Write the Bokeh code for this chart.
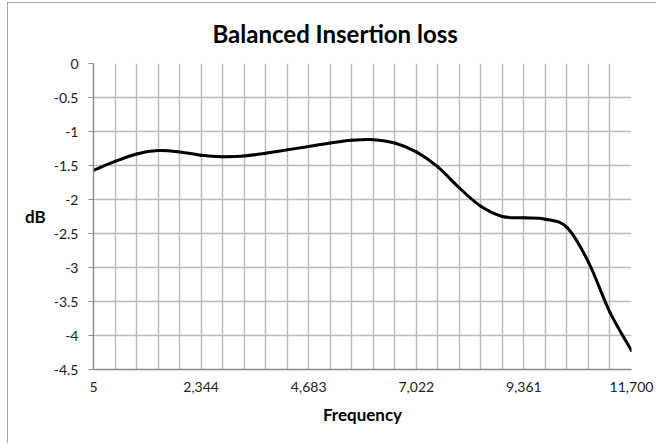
from bokeh.plotting import figure
from bokeh.models import FixedTicker, NumeralTickFormatter, Range1d
from bokeh.embed import file_html
from bokeh.resources import INLINE

# ---- data ----
frequency = [5, 472.8, 940.6, 1408.4, 1876.2, 2344, 2811.8, 3279.6, 3747.4, 4215.2,
             4683, 5150.8, 5618.6, 6086.4, 6554.2, 7022, 7489.8, 7957.6, 8425.4, 8893.2,
             9361, 9828.8, 10296.6, 10764.4, 11232.2, 11700]
insertion_loss_db = [-1.57, -1.44, -1.33, -1.28, -1.30, -1.35, -1.37, -1.36, -1.32, -1.27,
                     -1.22, -1.17, -1.13, -1.12, -1.17, -1.30, -1.52, -1.83, -2.10, -2.25,
                     -2.27, -2.29, -2.41, -2.92, -3.66, -4.22]
x_tick_labels = [5, 2344, 4683, 7022, 9361, 11700]
y_ticks = [0, -0.5, -1, -1.5, -2, -2.5, -3, -3.5, -4, -4.5]

FONT = "Lato"

p = figure(width=649, height=441, output_backend="svg", toolbar_location=None,
           x_range=Range1d(5, 11700), y_range=Range1d(-4.5, 0),
           min_border_left=86, min_border_right=25, min_border_top=61, min_border_bottom=74)
p.styles = {"outline": "1px solid #8a8a8a", "outline-offset": "-1px",
            "margin-left": "7px", "margin-top": "2px"}

p.title.text = "Balanced Insertion loss"
p.title.align = "left"
p.title.vertical_align = "top"
p.title.text_font = FONT
p.title.text_font_size = "24px"
p.title.text_font_style = "bold"
p.title.text_color = "black"
p.title.offset = 119
p.title.standoff = 27

p.outline_line_color = None
p.background_fill_color = "white"
p.border_fill_color = "white"

# grid
p.xgrid.ticker = FixedTicker(ticks=frequency)
p.ygrid.ticker = FixedTicker(ticks=y_ticks)
for g in (p.xgrid, p.ygrid):
    g.grid_line_color = "#bababa"
    g.grid_line_width = 1.4

# x axis
p.xaxis.ticker = FixedTicker(ticks=x_tick_labels)
p.xaxis.formatter = NumeralTickFormatter(format="0,0")
p.xaxis.major_tick_out = 0
p.xaxis.major_tick_in = 0
p.xaxis.minor_tick_out = 0
p.xaxis.minor_tick_in = 0
p.xaxis.axis_line_color = "#8a8a8a"
p.xaxis.axis_line_width = 1.4
p.xaxis.major_label_standoff = 12
p.xaxis.axis_label = "Frequency"
p.xaxis.axis_label_standoff = 9

# y axis
p.yaxis.ticker = FixedTicker(ticks=y_ticks)
p.yaxis.formatter = NumeralTickFormatter(format="0.[0]")
p.yaxis.major_tick_out = 5
p.yaxis.major_tick_in = 0
p.yaxis.minor_tick_out = 0
p.yaxis.minor_tick_in = 0
p.yaxis.major_tick_line_color = "#8a8a8a"
p.yaxis.axis_line_color = "#8a8a8a"
p.yaxis.axis_line_width = 1.4
p.yaxis.major_label_standoff = 10
p.yaxis.axis_label = "dB"
p.yaxis.axis_label_orientation = "horizontal"
p.yaxis.axis_label_standoff = 5

for ax in (p.xaxis, p.yaxis):
    ax.major_label_text_font = FONT
    ax.major_label_text_font_size = "14px"
    ax.major_label_text_color = "#222222"
    ax.axis_label_text_font = FONT
    ax.axis_label_text_font_size = "17px"
    ax.axis_label_text_font_style = "bold"
    ax.axis_label_text_color = "black"

# smoothed line (Bezier segments through the data points)
n = len(frequency)
x0, y0, x1, y1, cx0, cy0, cx1, cy1 = [], [], [], [], [], [], [], []
for i in range(n - 1):
    xp = frequency[max(i - 1, 0)]; yp = insertion_loss_db[max(i - 1, 0)]
    xa = frequency[i]; ya = insertion_loss_db[i]
    xb = frequency[i + 1]; yb = insertion_loss_db[i + 1]
    xn = frequency[min(i + 2, n - 1)]; yn = insertion_loss_db[min(i + 2, n - 1)]
    x0.append(xa); y0.append(ya); x1.append(xb); y1.append(yb)
    cx0.append(xa + (xb - xp) / 6); cy0.append(ya + (yb - yp) / 6)
    cx1.append(xb - (xn - xa) / 6); cy1.append(yb - (yn - ya) / 6)

p.bezier(x0=x0, y0=y0, x1=x1, y1=y1, cx0=cx0, cy0=cy0, cx1=cx1, cy1=cy1,
         line_color="black", line_width=3, line_cap="round")

open("out.html", "w").write(file_html(p, INLINE))
